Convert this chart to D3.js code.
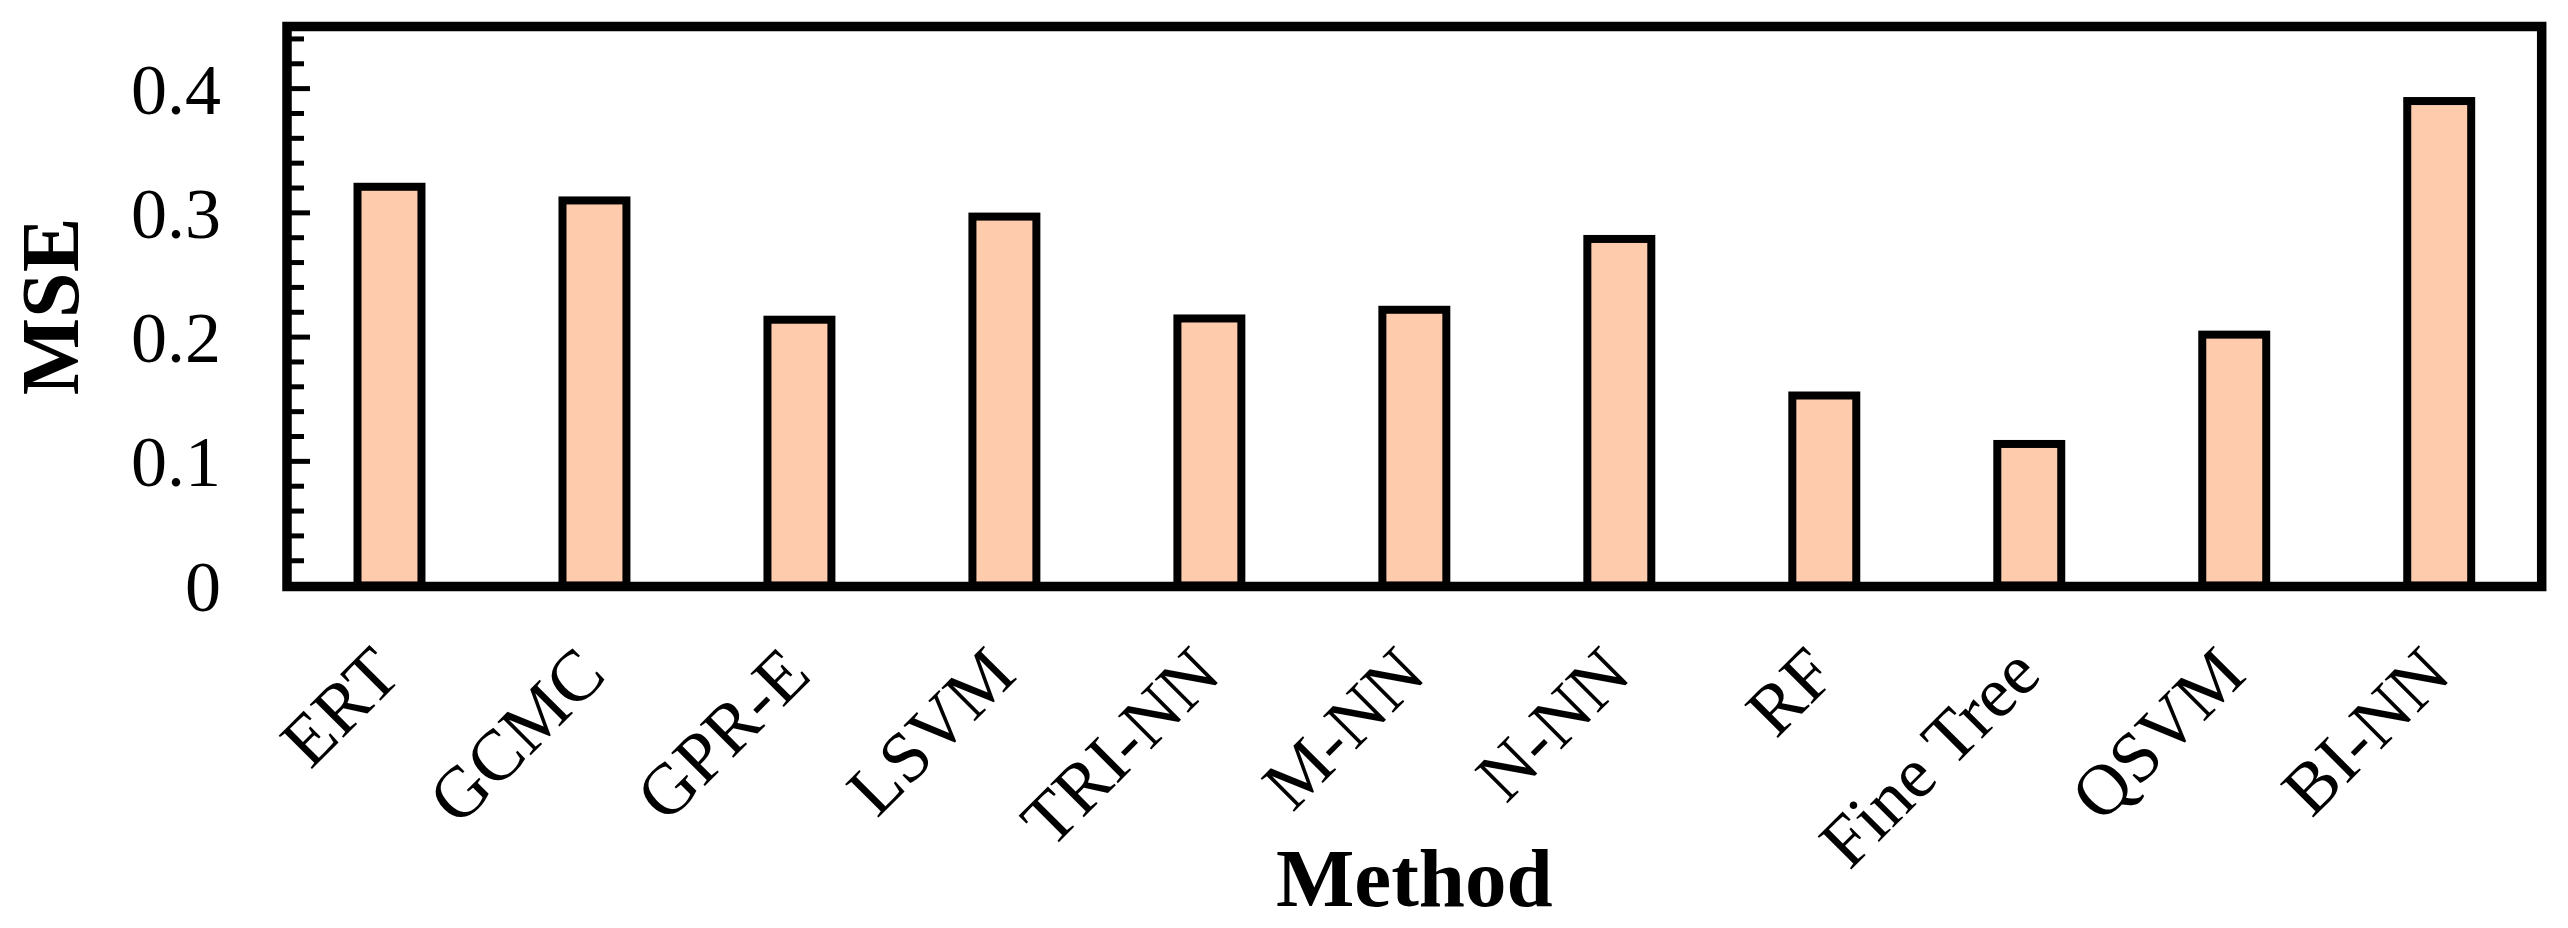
<!DOCTYPE html>
<html>
<head>
<meta charset="utf-8">
<script src="https://cdn.jsdelivr.net/npm/d3@7"></script>
<style>
html, body { margin: 0; padding: 0; background: #ffffff; }
svg { display: block; }
</style>
</head>
<body>
<svg id="chart" width="2568" height="928"></svg>
<script>
const methods = ["ERT", "GCMC", "GPR-E", "LSVM", "TRI-NN", "M-NN", "N-NN", "RF", "Fine Tree", "QSVM", "BI-NN"];
const mseValues = [0.321, 0.310, 0.214, 0.297, 0.215, 0.222, 0.279, 0.153, 0.114, 0.202, 0.390];
const yMajorTicks = [0, 0.1, 0.2, 0.3, 0.4];
const yTickLabels = ["0", "0.1", "0.2", "0.3", "0.4"];
const yMinorTicks = [0.02, 0.04, 0.06, 0.08, 0.12, 0.14, 0.16, 0.18, 0.22, 0.24, 0.26, 0.28, 0.32, 0.34, 0.36, 0.38, 0.42, 0.44];
const xTitle = "Method";
const yTitle = "MSE";

const svg = d3.select("#chart");
const mLeft = 287, mRight = 2541.7, mTop = 26.5, mBottom = 586.5;
const serif = "'Liberation Serif', 'Times New Roman', Times, serif";

const x = d3.scaleBand().domain(methods).range([mLeft, mRight]).paddingInner(0.688).paddingOuter(0.344);
const y = d3.scaleLinear().domain([0, 0.45]).range([mBottom - 0.9, mTop]);

// bars
svg.append("g").selectAll("rect").data(methods).join("rect")
  .attr("x", d => x(d))
  .attr("width", x.bandwidth())
  .attr("y", (d, i) => y(mseValues[i]))
  .attr("height", (d, i) => y(0) - y(mseValues[i]))
  .attr("fill", "#FECCAD")
  .attr("stroke", "#000")
  .attr("stroke-width", 8)
  .attr("stroke-linejoin", "miter");

// minor & major inward ticks on left
const tg = svg.append("g");
tg.selectAll("line.minor").data(yMinorTicks).join("line")
  .attr("class", "minor")
  .attr("x1", mLeft).attr("x2", 304)
  .attr("y1", d => y(d)).attr("y2", d => y(d))
  .attr("stroke", "#000").attr("stroke-width", 5);
tg.selectAll("line.major").data(yMajorTicks.filter(d => d > 0)).join("line")
  .attr("class", "major")
  .attr("x1", mLeft).attr("x2", 310)
  .attr("y1", d => y(d)).attr("y2", d => y(d))
  .attr("stroke", "#000").attr("stroke-width", 5);

// y axis labels via d3 axis
const yAxis = d3.axisLeft(y).tickValues(yMajorTicks)
  .tickFormat((d, i) => yTickLabels[i]).tickSize(0).tickPadding(66);
const ya = svg.append("g").attr("transform", `translate(${mLeft},0)`).call(yAxis);
ya.select(".domain").remove();
ya.selectAll("text").attr("font-family", serif).attr("font-size", 72).attr("fill", "#000").attr("dy", "0.34em");

// x axis labels
const xAxis = d3.axisBottom(x).tickSize(0).tickPadding(0);
const xa = svg.append("g").attr("transform", `translate(0,${mBottom})`).call(xAxis);
xa.select(".domain").remove();
xa.selectAll(".tick text")
  .attr("font-family", serif).attr("font-size", 72).attr("fill", "#000")
  .attr("text-anchor", "end")
  .attr("y", 0).attr("dy", 0)
  .attr("transform", "translate(14,91) rotate(-45)");

// frame
svg.append("rect")
  .attr("x", mLeft).attr("y", mTop)
  .attr("width", mRight - mLeft).attr("height", mBottom - mTop)
  .attr("fill", "none").attr("stroke", "#000").attr("stroke-width", 9.5)
  .attr("stroke-linejoin", "miter");

// titles
svg.append("text")
  .attr("x", (mLeft + mRight) / 2).attr("y", 906)
  .attr("text-anchor", "middle")
  .attr("font-family", serif).attr("font-weight", "bold").attr("font-size", 83)
  .text(xTitle);
svg.append("text")
  .attr("transform", `translate(78,${(mTop + mBottom) / 2}) rotate(-90)`)
  .attr("text-anchor", "middle")
  .attr("font-family", serif).attr("font-weight", "bold").attr("font-size", 82)
  .text(yTitle);
</script>
</body>
</html>
